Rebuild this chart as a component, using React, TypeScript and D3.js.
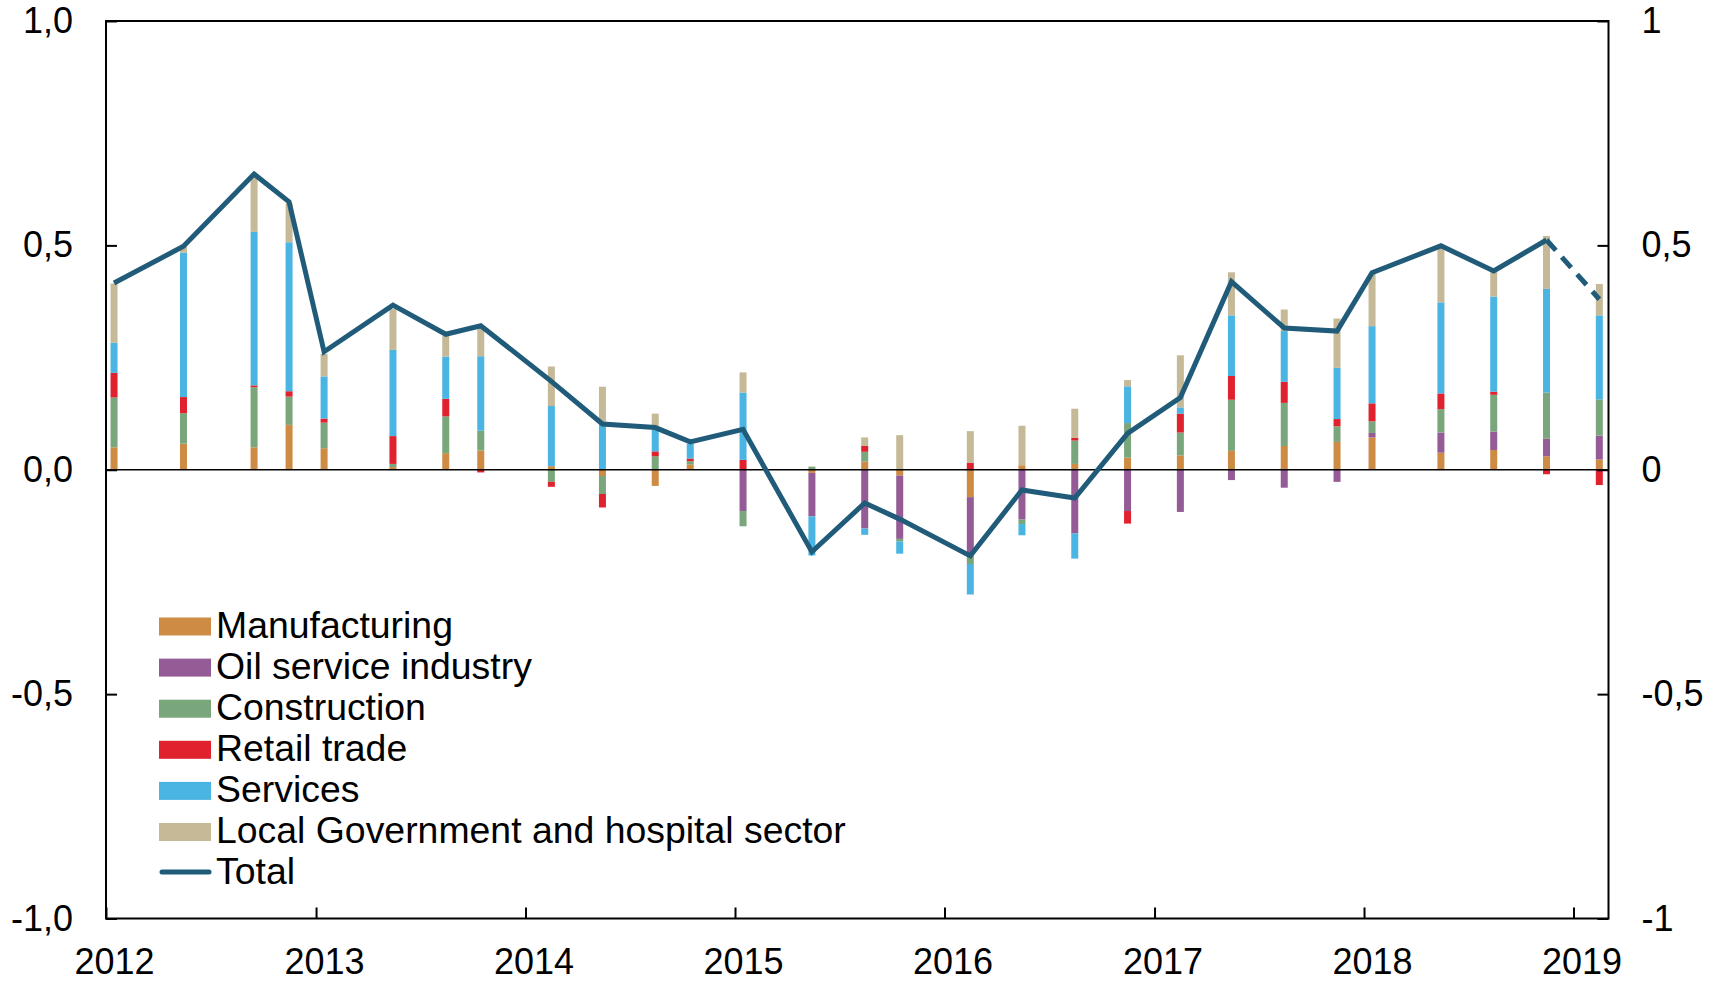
import * as d3 from "d3";
import { useRef, useEffect } from "react";

// survey months (bars sit mid-month)
const dates = ["2012-01","2012-05","2012-09","2012-11","2013-01","2013-05","2013-08","2013-10","2014-02","2014-05","2014-08","2014-10","2015-01","2015-05","2015-08","2015-10","2016-02","2016-05","2016-08","2016-11","2017-02","2017-05","2017-08","2017-11","2018-01","2018-05","2018-08","2018-11","2019-02"];

const manufacturing = [0.050,0.058,0.050,0.100,0.048,0.006,0.037,0.043,0.008,-0.014,-0.036,0.012,0,-0.007,0.018,-0.013,-0.061,0.010,0.013,0.027,0.032,0.042,0.053,0.062,0.072,0.038,0.044,0.030,0.023];
const oilService = [0,0,0,0,0,0,0,0,0,0,0,0,-0.092,-0.097,-0.131,-0.141,-0.130,-0.111,-0.142,-0.092,-0.094,-0.023,-0.040,-0.027,0.010,0.045,0.041,0.039,0.053];
const construction = [0.111,0.068,0.134,0.063,0.057,0.007,0.082,0.044,-0.027,-0.040,0.030,0.007,-0.034,0.007,0.022,-0.006,-0.019,-0.010,0.052,0.077,0.051,0.114,0.096,0.035,0.026,0.052,0.082,0.103,0.081];
const retail = [0.055,0.036,0.004,0.012,0.009,0.062,0.039,-0.006,-0.011,-0.030,0.011,0.006,0.022,0,0.013,0,0.015,0,0.006,-0.028,0.042,0.053,0.047,0.016,0.040,0.035,0.007,-0.010,-0.034];
const services = [0.067,0.322,0.342,0.332,0.094,0.192,0.094,0.166,0.134,0.100,0.048,0.033,0.150,-0.087,-0.014,-0.027,-0.068,-0.025,-0.056,0.082,0.014,0.135,0.113,0.114,0.172,0.203,0.212,0.231,0.187];
const localGov = [0.132,0.013,0.123,0.087,0.050,0.091,0.046,0.063,0.088,0.085,0.036,0,0.045,0,0.019,0.077,0.071,0.088,0.065,0.014,0.116,0.096,0.048,0.110,0.117,0.121,0.056,0.118,0.070];
const total = [0.416,0.498,0.659,0.597,0.263,0.367,0.302,0.321,0.197,0.102,0.094,0.062,0.090,-0.183,-0.074,-0.110,-0.192,-0.045,-0.063,0.081,0.161,0.419,0.316,0.309,0.439,0.499,0.443,0.512,0.380];

const seriesKeys = ["manufacturing","oil","construction","retail","services","localGov"];
const seriesNames = ["Manufacturing","Oil service industry","Construction","Retail trade","Services","Local Government and hospital sector"];
const seriesColors = ["#CD8B43","#955B96","#7AA67C","#E0212E","#4AB4E2","#C5B997"];
const totalName = "Total";
const totalColor = "#215B7A";

const yTicks = [-1, -0.5, 0, 0.5, 1];
const yLeftLabels = ["-1,0","-0,5","0,0","0,5","1,0"];
const yRightLabels = ["-1","-0,5","0","0,5","1"];
const years = [2012,2013,2014,2015,2016,2017,2018,2019];

export default function App() {
  const svgRef = useRef(null);
  const width = 1725, height = 981;
  const marginLeft = 106, marginRight = 116.5, marginTop = 21, marginBottom = 62.5;

  useEffect(() => {
    const svg = d3.select(svgRef.current);
    svg.selectAll("*").remove();
    const font = "'Liberation Sans', Arial, sans-serif";

    const parse = (s) => { const [y, m] = s.split("-").map(Number); return new Date(y, m - 1, 15); };
    const rows = dates.map((d, i) => ({
      date: parse(d),
      manufacturing: manufacturing[i], oil: oilService[i], construction: construction[i],
      retail: retail[i], services: services[i], localGov: localGov[i], total: total[i]
    }));

    const x = d3.scaleTime()
      .domain([new Date(2012, 0, 1), new Date(2019, 2, 3)])
      .range([marginLeft, width - marginRight]);
    const y = d3.scaleLinear()
      .domain([-1, 1])
      .range([height - marginBottom, marginTop]);

    const stack = d3.stack().keys(seriesKeys).offset(d3.stackOffsetDiverging);
    const stacked = stack(rows);

    const barW = 7;
    svg.append("g").selectAll("g")
      .data(stacked)
      .join("g")
      .attr("fill", (d, i) => seriesColors[i])
      .selectAll("rect")
      .data(d => d)
      .join("rect")
      .attr("x", d => x(d.data.date) - barW / 2)
      .attr("width", barW)
      .attr("y", d => y(Math.max(d[0], d[1])))
      .attr("height", d => Math.abs(y(d[0]) - y(d[1])));

    // zero line
    svg.append("line")
      .attr("x1", marginLeft).attr("x2", width - marginRight)
      .attr("y1", y(0)).attr("y2", y(0))
      .attr("stroke", "#000").attr("stroke-width", 1.6);

    // total line, last segment dashed (preliminary)
    const line = d3.line().x(d => x(d.date)).y(d => y(d.total));
    svg.append("path")
      .datum(rows.slice(0, rows.length - 1))
      .attr("d", line)
      .attr("fill", "none").attr("stroke", totalColor).attr("stroke-width", 5);
    svg.append("path")
      .datum(rows.slice(rows.length - 2))
      .attr("d", line)
      .attr("fill", "none").attr("stroke", totalColor).attr("stroke-width", 5)
      .attr("stroke-dasharray", "14 9");

    // axes
    const leftAxis = d3.axisLeft(y).tickValues(yTicks).tickSize(-11).tickPadding(33)
      .tickFormat((d, i) => yLeftLabels[i]);
    const rightAxis = d3.axisRight(y).tickValues(yTicks).tickSize(-11).tickPadding(33)
      .tickFormat((d, i) => yRightLabels[i]);
    const bottomAxis = d3.axisBottom(x).tickValues(years.map(yr => new Date(yr, 0, 1))).tickSize(-11).tickPadding(30)
      .tickFormat(d3.timeFormat("%Y"));

    const styleAxis = g => {
      g.select(".domain").remove();
      g.selectAll("line").attr("stroke", "#000").attr("stroke-width", 2);
      g.selectAll("text").attr("fill", "#000").style("font-size", "36px").style("font-family", font);
    };
    svg.append("g").attr("transform", `translate(${marginLeft},0)`).call(leftAxis).call(styleAxis);
    svg.append("g").attr("transform", `translate(${width - marginRight},0)`).call(rightAxis).call(styleAxis);
    svg.append("g").attr("transform", `translate(0,${height - marginBottom})`).call(bottomAxis).call(styleAxis)
      .selectAll("text").attr("dx", 8);

    // frame
    svg.append("rect")
      .attr("x", marginLeft).attr("y", marginTop)
      .attr("width", width - marginLeft - marginRight)
      .attr("height", height - marginTop - marginBottom)
      .attr("fill", "none").attr("stroke", "#000").attr("stroke-width", 2);

    // legend
    const legend = svg.append("g").attr("transform", "translate(159,626.5)");
    const step = 41.1;
    const legendFont = "37.4px";
    seriesNames.forEach((name, i) => {
      legend.append("rect")
        .attr("x", 0).attr("y", i * step - 9)
        .attr("width", 52).attr("height", 18)
        .attr("fill", seriesColors[i]);
      legend.append("text")
        .attr("x", 57).attr("y", i * step + 11)
        .style("font-size", legendFont).style("font-family", font)
        .text(name);
    });
    const ti = seriesNames.length;
    legend.append("line")
      .attr("x1", 3).attr("x2", 50)
      .attr("y1", ti * step - 1).attr("y2", ti * step - 1)
      .attr("stroke", totalColor).attr("stroke-width", 5).attr("stroke-linecap", "round");
    legend.append("text")
      .attr("x", 57).attr("y", ti * step + 11)
      .style("font-size", legendFont).style("font-family", font)
      .text(totalName);
  }, []);

  return (
    <div style={{ position: "absolute", left: 0, top: 0 }}>
      <svg ref={svgRef} width={width} height={height} style={{ display: "block", background: "#fff" }}></svg>
    </div>
  );
}
